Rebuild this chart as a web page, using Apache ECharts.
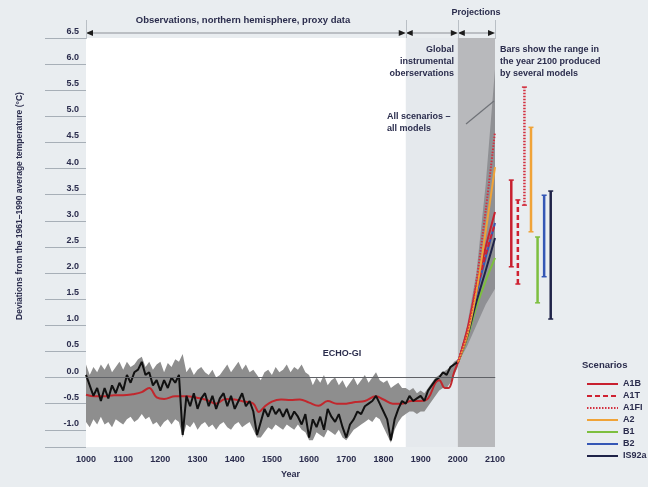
<!DOCTYPE html>
<html>
<head>
<meta charset="utf-8">
<script src="https://cdn.jsdelivr.net/npm/echarts@6/dist/echarts.min.js"></script>
<style>
  html, body { margin: 0; padding: 0; background: #e9edf0; }
  #main { width: 648px; height: 487px; }
</style>
</head>
<body>
<div id="main"></div>
<script>
/*
 * 过去千年北半球温度与 2100 年情景预测
 */

// 代理数据：1000 年起，每 10 年一个点
var proxyStart = 1000
var proxyStep = 10

// ECHO-G 模拟 (黑线)
var echoG = [
  0.05, -0.15, -0.35, -0.2, -0.45, -0.2, -0.4, -0.15, -0.3, -0.1,
  -0.25, 0.05, -0.1, 0.1, 0.15, 0.3, 0.05, 0.1, -0.15, -0.05,
  -0.25, -0.05, -0.2, 0.0, -0.1, 0.05, -1.1, -0.35, -0.55, -0.3,
  -0.6, -0.4, -0.3, -0.55, -0.35, -0.6, -0.4, -0.3, -0.55, -0.35,
  -0.6, -0.45, -0.3, -0.55, -0.45, -0.65, -1.1, -0.85, -0.6, -0.75,
  -0.55, -0.7, -0.6, -0.75, -0.6, -0.8, -0.65, -0.75, -0.9, -0.7,
  -1.15, -0.8, -0.95, -0.75, -1.0, -0.6, -0.75, -0.85, -0.7, -0.95,
  -1.15, -0.9, -0.8, -0.65, -0.7, -0.55, -0.5, -0.45, -0.35, -0.5,
  -0.65, -0.8, -1.2, -0.8, -0.6, -0.45, -0.5, -0.35, -0.45, -0.4,
  -0.35, -0.45, -0.25, -0.15, -0.05, 0.0, 0.1, 0.05, 0.2, 0.25,
  0.3
]

// 代理数据范围 (灰色带) 上下界
var bandUpper = [
  0.25, 0.05, 0.2, 0.1, 0.25, 0.15, 0.28, 0.1, 0.2, 0.3,
  0.15, 0.3, 0.2, 0.25, 0.35, 0.4, 0.2, 0.3, 0.15, 0.25,
  0.3, 0.1, 0.28, 0.2, 0.35, 0.3, 0.45, 0.1, 0.2, 0.05,
  0.15, 0.2, 0.1, 0.05, 0.15, 0.0, 0.05, 0.15, 0.25, 0.1,
  0.2, 0.3, 0.15, 0.25, 0.1, 0.15, 0.05, -0.05, 0.1, 0.15,
  0.05, 0.2, 0.1, 0.15, 0.25, 0.1, 0.2, 0.15, 0.25, 0.1,
  0.05, -0.15, 0.0, -0.1, 0.05, -0.15, -0.05, 0.0, -0.15, -0.05,
  -0.2, -0.1, 0.0, -0.15, -0.05, 0.05, -0.1, 0.0, 0.1, -0.05,
  -0.1, -0.05, -0.2, -0.15, -0.1, -0.2, -0.2, -0.25, -0.2, -0.3,
  -0.25, -0.3, -0.2, -0.1, 0.0, 0.05, 0.1, 0.15, 0.2, 0.3,
  0.35
]
var bandLower = [
  -0.85, -0.95, -0.8, -0.9, -0.75, -0.9, -0.85, -0.95, -0.8, -0.85,
  -0.9, -0.8, -0.75, -0.85, -0.8, -0.7, -0.8, -0.75, -0.9, -0.85,
  -0.95, -0.85, -0.8, -0.9, -0.8, -0.85, -1.15, -0.9, -0.95, -0.85,
  -1.0, -0.9, -0.85, -0.95, -0.9, -1.0, -0.9, -0.85, -0.95, -1.0,
  -0.9, -0.85, -0.95, -0.9, -0.85, -1.0, -1.15, -1.15, -1.05, -0.95,
  -1.0, -0.9, -0.95, -1.0, -0.9, -0.95, -1.0, -0.9, -1.0, -1.05,
  -1.2, -1.2, -1.05, -1.1, -1.15, -1.0, -1.05, -1.1, -1.0, -1.15,
  -1.2, -1.1, -1.0, -0.95, -0.9, -0.85, -0.8, -0.85, -0.75, -0.8,
  -0.95, -1.1, -1.25, -1.0, -0.85, -0.75, -0.7, -0.65, -0.65, -0.7,
  -0.65, -0.65, -0.55, -0.45, -0.35, -0.25, -0.2, -0.2, -0.1, 0.05,
  0.2
]

// 红线 (平滑均值)
var meanYears = [1000, 1025, 1050, 1075, 1100, 1125, 1150, 1170, 1190, 1210, 1240, 1270, 1300, 1325, 1350,
  1375, 1400, 1425, 1450, 1465, 1480, 1500, 1525, 1550, 1575, 1600, 1625, 1650, 1675, 1700, 1725, 1750,
  1780, 1800, 1825, 1850, 1875, 1900, 1920, 1940, 1950, 1965, 1975, 1990, 2000]
var meanValues = [-0.33, -0.36, -0.36, -0.34, -0.34, -0.32, -0.28, -0.2, -0.38, -0.41, -0.36, -0.36, -0.39, -0.43, -0.5,
  -0.41, -0.42, -0.46, -0.5, -0.66, -0.56, -0.46, -0.42, -0.43, -0.42, -0.48, -0.54, -0.45, -0.5, -0.5, -0.47, -0.45,
  -0.36, -0.42, -0.5, -0.5, -0.45, -0.45, -0.4, -0.1, -0.05, -0.2, -0.2, 0.1, 0.28]

// 情景预测 2000-2100
var scenarioNames = ['A1B', 'A1T', 'A1FI', 'A2', 'B1', 'B2', 'IS92a']
var projYears = [2000, 2025, 2050, 2075, 2100]
var projA1B = [0.28, 0.9, 1.75, 2.5, 3.17]
var projA1T = [0.28, 0.88, 1.65, 2.35, 2.95]
var projA1FI = [0.28, 0.85, 1.85, 3.2, 4.7]
var projA2 = [0.28, 0.8, 1.65, 2.8, 4.03]
var projB1 = [0.28, 0.75, 1.35, 1.85, 2.29]
var projB2 = [0.28, 0.85, 1.6, 2.3, 2.96]
var projIS92a = [0.28, 0.78, 1.45, 2.05, 2.67]

// 所有情景/所有模式 (灰色楔形)
var fanUpper = [0.3, 1.0, 2.0, 3.7, 5.9]
var fanLower = [0.28, 0.6, 1.0, 1.4, 1.7]

// 2100 年各模式范围
var rangeLow = [2.12, 1.79, 3.30, 2.79, 1.43, 1.93, 1.12]
var rangeHigh = [3.78, 3.40, 5.56, 4.79, 2.69, 3.49, 3.57]

// 坐标轴
var yTickLabels = [-1.0, -0.5, 0.0, 0.5, 1.0, 1.5, 2.0, 2.5, 3.0, 3.5, 4.0, 4.5, 5.0, 5.5, 6.0, 6.5]
var yMin = -1.33
var yMax = 6.5

// 样式
var navy = '#2b2d4d'
var scenarioColor = {
  A1B: '#c8202f', A1T: '#cf2232', A1FI: '#d3303f', A2: '#f0a338',
  B1: '#7dbf3f', B2: '#3557b5', IS92a: '#1f2348'
}
var scenarioDash = {
  A1B: 'solid', A1T: [5, 3], A1FI: [1.5, 1.5], A2: 'solid',
  B1: 'solid', B2: 'solid', IS92a: 'solid'
}
var projData = { A1B: projA1B, A1T: projA1T, A1FI: projA1FI, A2: projA2, B1: projB1, B2: projB2, IS92a: projIS92a }

function proxyYear(i) { return proxyStart + i * proxyStep }
function proxyPairs(arr) {
  return arr.map(function (v, i) { return [proxyYear(i), v] })
}

/**
 * 上下界之间的填充带 (custom 多边形)
 */
function bandSeries(name, xs, lower, upper, color, z) {
  return {
    name: name, type: 'custom', z: z, silent: true,
    encode: { x: 0, y: [1, 2] },
    data: xs.map(function (x, i) { return [x, lower[i], upper[i]] }),
    renderItem: function (params, api) {
      if (params.dataIndex !== 0) return null
      var pts = []
      for (var i = 0; i < xs.length; i++) pts.push(api.coord([xs[i], upper[i]]))
      for (var j = xs.length - 1; j >= 0; j--) pts.push(api.coord([xs[j], lower[j]]))
      return { type: 'polygon', shape: { points: pts }, style: { fill: color } }
    }
  }
}

var chart = echarts.init(document.getElementById('main'))

var series = []

// 背景区域 (器测期 / 预测期)
series.push({
  type: 'line', data: [], z: 0, silent: true,
  markArea: {
    silent: true,
    data: [
      [{ xAxis: 1860, itemStyle: { color: '#e5e9ed' } }, { xAxis: 2000 }],
      [{ xAxis: 2000, itemStyle: { color: '#b8b9bc' } }, { xAxis: 2100 }]
    ]
  }
})

// 楔形 与 代理数据灰色带
series.push(bandSeries('fan', projYears, fanLower, fanUpper, '#8f9094', 1))
series.push(bandSeries('band', echoG.map(function (v, i) { return proxyYear(i) }), bandLower, bandUpper, '#8e8e8e', 1))

// 零线
series.push({
  type: 'line', data: [], z: 2, silent: true,
  markLine: {
    silent: true, symbol: 'none', label: { show: false },
    lineStyle: { color: '#5f6166', width: 1, type: 'solid' },
    data: [{ yAxis: 0 }]
  }
})

// 红线
series.push({
  name: 'mean', type: 'line', smooth: 0.4, symbol: 'none', z: 3,
  lineStyle: { color: '#c1272d', width: 2 },
  data: meanYears.map(function (y, i) { return [y, meanValues[i]] })
})

// ECHO-G
series.push({
  name: 'ECHO-G', type: 'line', symbol: 'none', z: 4,
  lineStyle: { color: '#111111', width: 2 },
  data: proxyPairs(echoG)
})

// 情景线 (绘制顺序)
var drawOrder = ['B1', 'IS92a', 'B2', 'A1T', 'A1B', 'A2', 'A1FI']
drawOrder.forEach(function (name) {
  series.push({
    name: name, type: 'line', smooth: 0.3, symbol: 'none', z: 5,
    lineStyle: { color: scenarioColor[name], width: 2, type: scenarioDash[name] },
    data: projYears.map(function (y, i) { return [y, projData[name][i]] })
  })
})

// 2100 年范围条
series.push({
  name: 'ranges', type: 'custom', xAxisIndex: 1, yAxisIndex: 1, z: 5,
  encode: { x: 0, y: [1, 2] },
  data: scenarioNames.map(function (n, i) { return [i, rangeLow[i], rangeHigh[i]] }),
  renderItem: function (params, api) {
    var idx = api.value(0)
    var name = scenarioNames[idx]
    var lo = api.coord([idx, api.value(1)])
    var hi = api.coord([idx, api.value(2)])
    var color = scenarioColor[name]
    var dash = scenarioDash[name]
    return {
      type: 'group',
      children: [
        { type: 'line', shape: { x1: lo[0], y1: lo[1], x2: hi[0], y2: hi[1] },
          style: { stroke: color, lineWidth: 2.5, lineDash: dash === 'solid' ? null : dash } },
        { type: 'line', shape: { x1: lo[0] - 2.5, y1: lo[1], x2: lo[0] + 2.5, y2: lo[1] },
          style: { stroke: color, lineWidth: 1.5 } },
        { type: 'line', shape: { x1: hi[0] - 2.5, y1: hi[1], x2: hi[0] + 2.5, y2: hi[1] },
          style: { stroke: color, lineWidth: 1.5 } }
      ]
    }
  }
})

var labelFont = { color: navy, fontSize: 9, fontWeight: 'bold', fontFamily: 'Liberation Sans, Arial, sans-serif' }

var option = {
  backgroundColor: '#e9edf0',
  animation: false,
  textStyle: { fontFamily: 'Liberation Sans, Arial, sans-serif' },
  grid: [
    { left: 86, right: 153, top: 38, bottom: 40, show: true, backgroundColor: '#ffffff', borderWidth: 0 },
    { left: 508, width: 46, top: 38, bottom: 40, show: false }
  ],
  xAxis: [
    {
      type: 'value', gridIndex: 0, min: 1000, max: 2100, interval: 100,
      name: 'Year', nameLocation: 'middle', nameGap: 23,
      nameTextStyle: labelFont,
      axisLine: { lineStyle: { color: '#9aa1a8', width: 1 } },
      axisTick: { show: false },
      splitLine: { show: false },
      axisLabel: Object.assign({ margin: 8, formatter: function (v) { return String(v) } }, labelFont)
    },
    {
      type: 'category', gridIndex: 1, data: scenarioNames, show: false
    }
  ],
  yAxis: [
    {
      type: 'value', gridIndex: 0, min: yMin, max: yMax,
      axisLine: { show: false },
      axisTick: {
        show: true, inside: false, length: 41,
        customValues: [yMin].concat(yTickLabels),
        lineStyle: { color: '#a7afb7', width: 1 }
      },
      splitLine: { show: false },
      axisLabel: Object.assign({
        customValues: yTickLabels,
        margin: 7,
        verticalAlign: 'bottom',
        padding: [0, 0, 2, 0],
        formatter: function (v) { return v.toFixed(1) }
      }, labelFont)
    },
    { type: 'value', gridIndex: 1, min: yMin, max: yMax, show: false }
  ],
  legend: {
    data: scenarioNames,
    orient: 'vertical',
    left: 581, top: 373,
    itemWidth: 31, itemHeight: 6, itemGap: 0,
    itemStyle: { opacity: 0 },
    textStyle: { color: navy, fontSize: 9, fontWeight: 'bold', lineHeight: 12 },
    selectedMode: false
  },
  series: series
}

chart.setOption(option)

// 文字与箭头注释
function xpx(year) { return chart.convertToPixel({ xAxisIndex: 0 }, year) }

var arrowY = 33
var arrowColor = '#1c1c1c'
var g = []

function arrowSeg(y1, y2) {
  var a = xpx(y1), b = xpx(y2)
  g.push({ type: 'line', shape: { x1: a + 6, y1: arrowY, x2: b - 6, y2: arrowY }, style: { stroke: '#8d9097', lineWidth: 1 } })
  g.push({ type: 'polygon', shape: { points: [[a, arrowY], [a + 7, arrowY - 3], [a + 7, arrowY + 3]] }, style: { fill: arrowColor } })
  g.push({ type: 'polygon', shape: { points: [[b, arrowY], [b - 7, arrowY - 3], [b - 7, arrowY + 3]] }, style: { fill: arrowColor } })
}
arrowSeg(1000, 1860)
arrowSeg(1860, 2000)
arrowSeg(2000, 2100)

;[1000, 1860, 2000, 2100].forEach(function (yr) {
  var x = Math.round(xpx(yr)) + 0.5
  g.push({ type: 'line', shape: { x1: x, y1: 20, x2: x, y2: 39 }, style: { stroke: '#b9bfc5', lineWidth: 1 } })
})

function txt(text, x, y, align, extra) {
  var st = Object.assign({
    text: text, fill: navy, font: 'bold 9px "Liberation Sans", Arial, sans-serif',
    align: align || 'left', verticalAlign: 'middle'
  }, extra || {})
  g.push({ type: 'text', x: x, y: y, style: st, z: 20 })
}

txt('Observations, northern hemisphere, proxy data', 243, 20, 'center', { font: 'bold 9.5px "Liberation Sans", Arial, sans-serif' })
txt('Projections', 476, 13, 'center')
txt('Global', 454, 50, 'right')
txt('instrumental', 454, 62, 'right')
txt('oberservations', 454, 74, 'right')
txt('Bars show the range in', 500, 50, 'left')
txt('the year 2100 produced', 500, 62, 'left')
txt('by several models', 500, 74, 'left')
txt('All scenarios \u2013', 387, 117, 'left')
txt('all models', 387, 129, 'left')
txt('ECHO-GI', 342, 354, 'center')
txt('Scenarios', 582, 365, 'left', { font: 'bold 9.5px "Liberation Sans", Arial, sans-serif' })

g.push({ type: 'line', shape: { x1: 466, y1: 124, x2: 494, y2: 101 }, style: { stroke: '#6f7277', lineWidth: 1.2 }, z: 20 })

g.push({
  type: 'text', x: 20, y: 206, rotation: Math.PI / 2, z: 20,
  style: {
    text: 'Deviations from the 1961\u20131990 average temperature (\u00B0C)',
    fill: navy, font: 'bold 8.5px "Liberation Sans", Arial, sans-serif',
    align: 'center', verticalAlign: 'middle'
  }
})

chart.setOption({ graphic: g })
</script>
</body>
</html>
